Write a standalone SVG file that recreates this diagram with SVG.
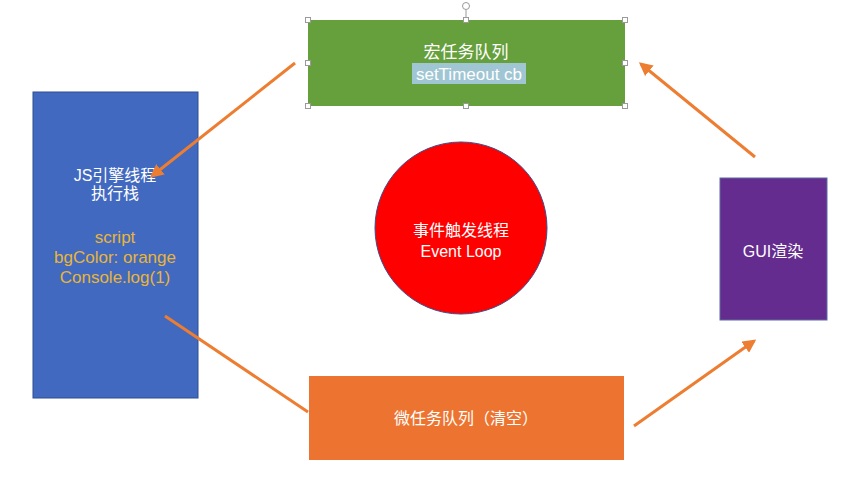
<svg xmlns="http://www.w3.org/2000/svg" width="856" height="481" viewBox="0 0 856 481">
<style>
.t{font-family:"Liberation Sans","Noto Sans CJK SC",sans-serif;font-size:16px;text-anchor:middle;fill:#ffffff}
.y{fill:#e8b53a;font-size:17px}
.c{stroke:#ed7d31;stroke-width:3;fill:none}
.h{fill:#ffffff;stroke:#9a9a9a;stroke-width:1}
</style>
<defs>
<marker id="ah" viewBox="0 0 10 10" refX="8" refY="5" markerWidth="4.5" markerHeight="4.5" orient="auto" markerUnits="strokeWidth">
<path d="M0,0 L10,5 L0,10 z" fill="#ed7d31"/>
</marker>
</defs>
<rect width="856" height="481" fill="#ffffff"/>
<g id="js-engine">
<rect x="33" y="92" width="165" height="306" fill="#4169bf" stroke="#2f4f8f" stroke-width="1"/>
<text class="t" x="115" y="181">JS引擎线程</text>
<text class="t" x="115" y="199">执行栈</text>
<text class="t y" x="115" y="243">script</text>
<text class="t y" x="115" y="263">bgColor: orange</text>
<text class="t y" x="115" y="283">Console.log(1)</text>
</g>
<g id="macro-queue">
<rect x="308" y="20" width="317" height="86" fill="#66a03c"/>
<rect x="412" y="63" width="114" height="21" fill="#a0c6d4"/>
<text class="t" x="466" y="58" style="font-size:17px">宏任务队列</text>
<text class="t" x="469" y="80" style="font-size:17px">setTimeout cb</text>
<line x1="466" y1="10" x2="466" y2="20" stroke="#9a9a9a" stroke-width="1"/>
<circle cx="466" cy="6" r="3.5" class="h"/>
<rect class="h" x="305.5" y="17.5" width="5" height="5"/>
<rect class="h" x="463.5" y="17.5" width="5" height="5"/>
<rect class="h" x="622.5" y="17.5" width="5" height="5"/>
<rect class="h" x="305.5" y="60.5" width="5" height="5"/>
<rect class="h" x="622.5" y="60.5" width="5" height="5"/>
<rect class="h" x="305.5" y="103.5" width="5" height="5"/>
<rect class="h" x="463.5" y="103.5" width="5" height="5"/>
<rect class="h" x="622.5" y="103.5" width="5" height="5"/>
</g>
<g id="event-loop">
<circle cx="461" cy="228" r="86" fill="#ff0000" stroke="#3b4c8c" stroke-width="1"/>
<text class="t" x="461" y="236">事件触发线程</text>
<text class="t" x="461" y="257">Event Loop</text>
</g>
<g id="micro-queue">
<rect x="309" y="376" width="315" height="84" fill="#ed7430"/>
<text class="t" x="466" y="424">微任务队列（清空）</text>
</g>
<g id="gui">
<rect x="720" y="178" width="107" height="142" fill="#652c90" stroke="#5a6aa0" stroke-width="1"/>
<text class="t" x="773" y="257">GUI渲染</text>
</g>
<g id="connectors">
<line class="c" x1="295" y1="63" x2="152" y2="176" marker-end="url(#ah)"/>
<line class="c" x1="165" y1="316" x2="308" y2="412"/>
<line class="c" x1="634" y1="426" x2="754" y2="341" marker-end="url(#ah)"/>
<line class="c" x1="755" y1="157" x2="641" y2="64" marker-end="url(#ah)"/>
</g>
</svg>
